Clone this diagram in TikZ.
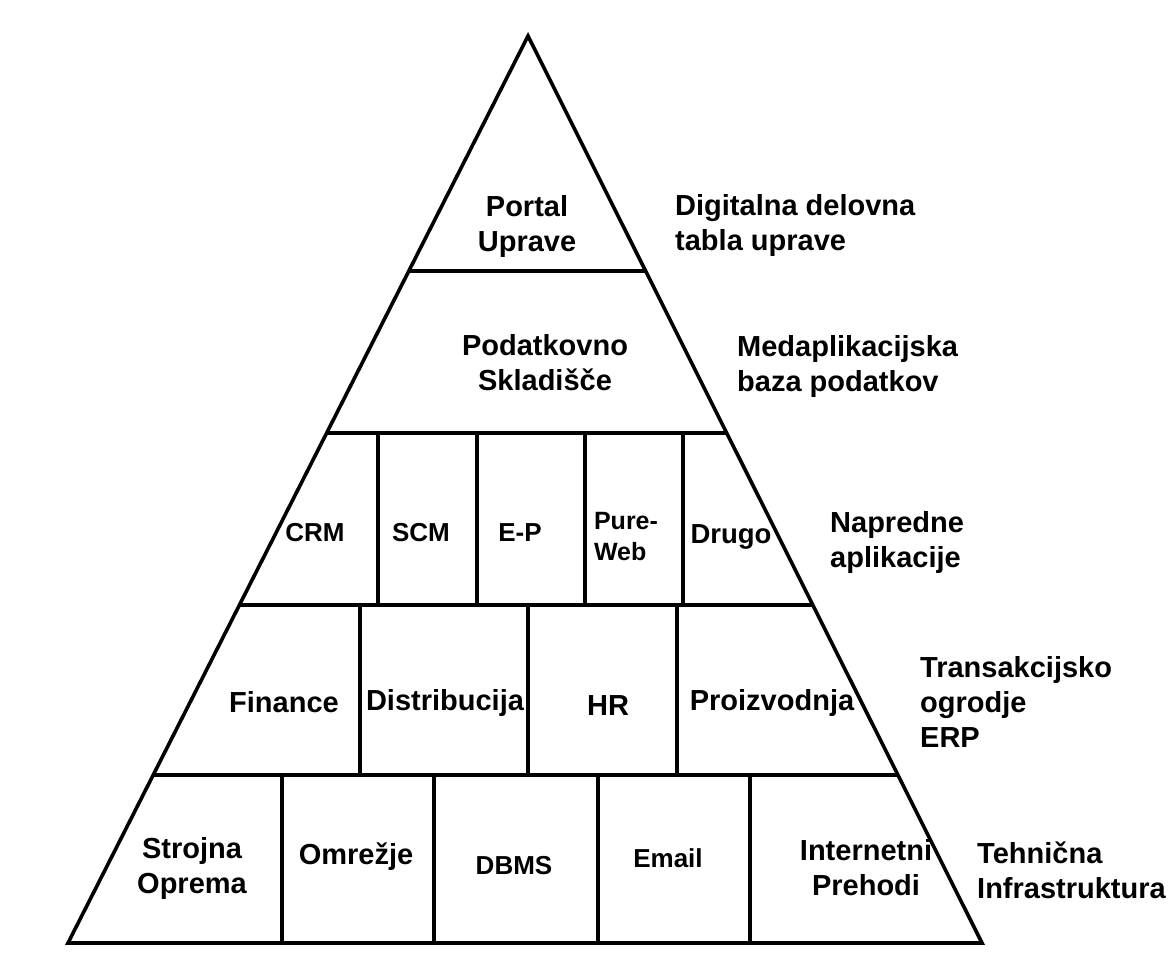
\documentclass[tikz,border=0pt]{standalone}
\usepackage{fontspec}
\setmainfont{Liberation Sans}
\usetikzlibrary{calc}
\begin{document}
\begin{tikzpicture}[x=1pt,y=-1pt,
  edge/.style={line width=3.6pt, line join=miter, black},
  sep/.style={line width=3.4pt, black},
  lbl/.style={inner sep=0pt, align=center, font=\fontsize{29}{35}\selectfont\bfseries},
  small/.style={inner sep=0pt, align=center, font=\fontsize{26}{31}\selectfont\bfseries},
  tiny/.style={inner sep=0pt, align=left, font=\fontsize{25}{31}\selectfont\bfseries},
  side/.style={inner sep=0pt, align=left, anchor=west, font=\fontsize{29}{35}\selectfont\bfseries}]
\useasboundingbox (0,0) rectangle (1169,974);
\fill[white] (0,0) rectangle (1169,974);
\coordinate (apex) at (528,36);
\coordinate (bl) at (68,943);
\coordinate (br) at (982,943);
% horizontal separators
\foreach \t/\n in {0.2591/a,0.4377/b,0.6273/c,0.8148/d}{
  \coordinate (l\n) at ($(apex)!\t!(bl)$);
  \coordinate (r\n) at ($(apex)!\t!(br)$);
  \draw[sep] (l\n) -- (r\n);
}
% verticals row 3
\foreach \x in {378,477,585,683}{ \draw[sep] (\x,433) -- (\x,605); }
% verticals row 4
\foreach \x in {360,528,677}{ \draw[sep] (\x,605) -- (\x,775); }
% verticals row 5
\foreach \x in {282,434,598,750}{ \draw[sep] (\x,775) -- (\x,943); }
% outline
\draw[edge] (apex) -- (bl) -- (br) -- cycle;
% labels inside
\node[lbl] (portal) at (527,226) {Portal\\Uprave};
\node[lbl] (skl) at (545,363) {Podatkovno\\Skladišče};
\node[small] (crm) at (315,533) {CRM};
\node[small] (scm) at (421,533) {SCM};
\node[small] (ep) at (520,533) {E-P};
\node[tiny] (pw) at (626,537) {Pure-\\Web};
\node[lbl, font=\fontsize{27.5}{35}\selectfont\bfseries] (drugo) at (731,537) {Drugo};
\node[lbl] (fin) at (284,702) {Finance};
\node[lbl] (dist) at (445,703) {Distribucija};
\node[lbl] (hr) at (608,706) {HR};
\node[lbl] (proi) at (772,703) {Proizvodnja};
\node[lbl] (stro) at (192,868) {Strojna\\Oprema};
\node[lbl] (omr) at (356,857) {Omrežje};
\node[small] (dbms) at (514,866) {DBMS};
\node[small] (email) at (668,858) {Email};
\node[lbl] (inet) at (866,868) {Internetni\\Prehodi};
% side labels
\node[side] (s1) at (675,225) {Digitalna delovna\\tabla uprave};
\node[side] (s2) at (737,366) {Medaplikacijska\\baza podatkov};
\node[side] (s3) at (830,542) {Napredne\\aplikacije};
\node[side] (s4) at (920,702) {Transakcijsko\\ogrodje\\ERP};
\node[side] (s5) at (977,870) {Tehnična\\Infrastruktura};
\end{tikzpicture}
\end{document}
